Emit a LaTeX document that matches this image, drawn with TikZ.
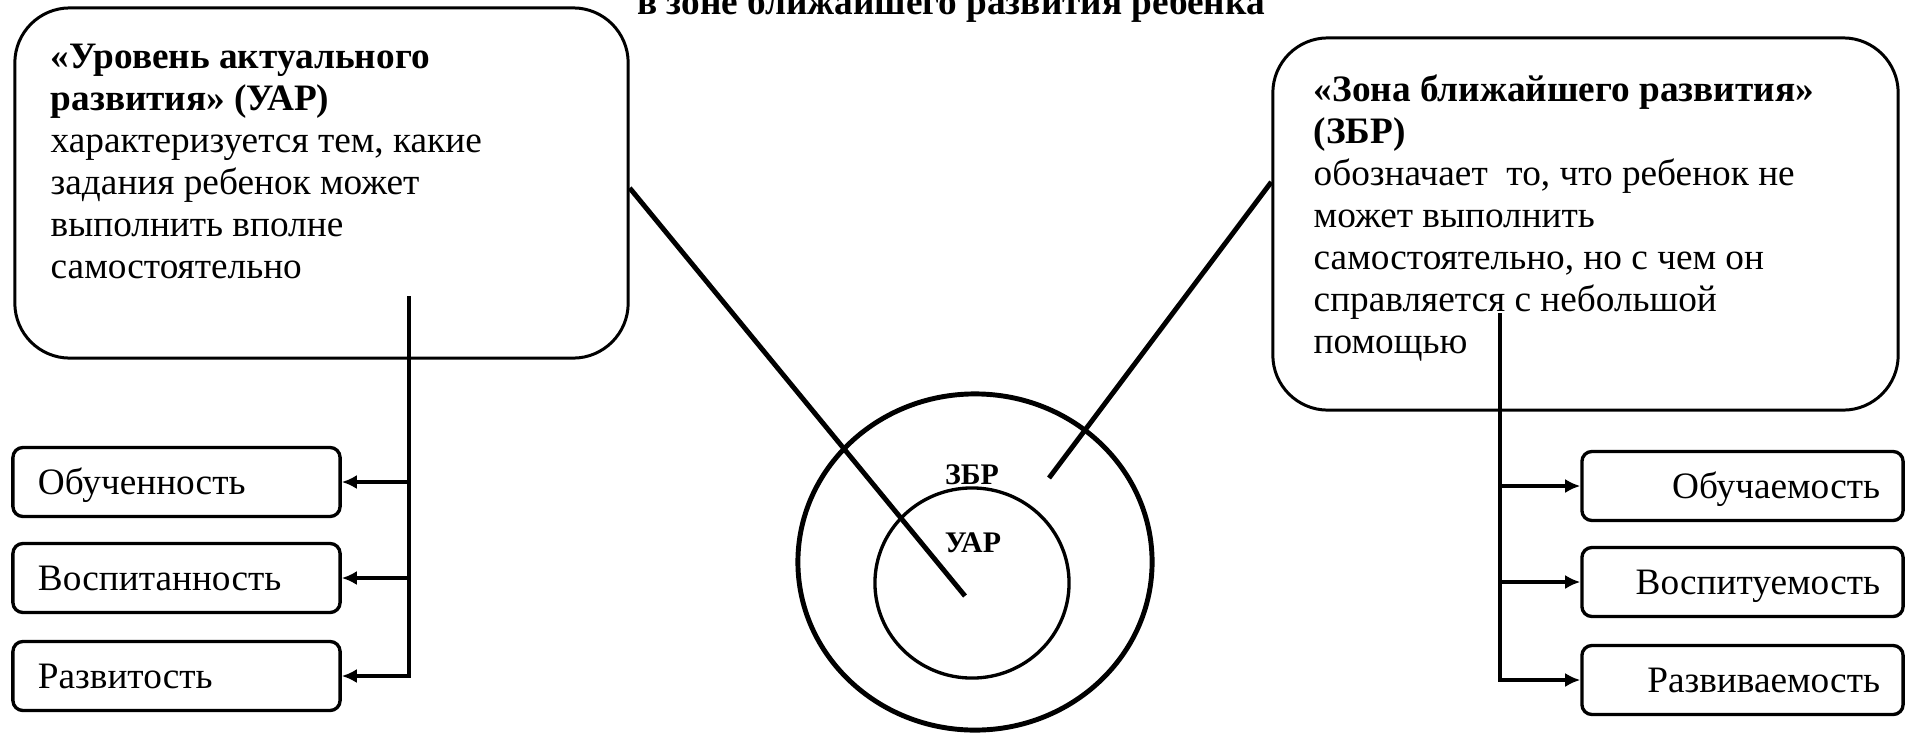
\documentclass[tikz,border=0pt]{standalone}
\usepackage{fontspec}
\setmainfont{Liberation Serif}
\usetikzlibrary{arrows.meta,shapes.geometric}

\begin{document}
\begin{tikzpicture}[x=0.01cm,y=-0.01cm,
  font=\fontsize{10.6}{11.95}\selectfont,
  bigbox/.style={draw,line width=0.85pt,rounded corners=0.55cm},
  tagbox/.style={draw,line width=0.95pt,rounded corners=0.1cm,minimum height=0.69cm,text height=0.25cm,text depth=0pt},
  lefttag/.style={tagbox,minimum width=3.27cm,text width=2.77cm,inner xsep=0.25cm,align=left},
  righttag/.style={tagbox,minimum width=3.21cm,text width=2.75cm,inner xsep=0.23cm,align=right},
  ring/.style={draw,ellipse,inner sep=0pt},
  ringlabel/.style={font=\fontsize{8.5}{10}\selectfont\bfseries},
  diag/.style={line width=1.4pt},
  link/.style={line width=0.95pt},
  tip/.style={link,-{Latex[length=1.5mm,width=1.4mm]}}]
 	\useasboundingbox (0,0) rectangle (1909,736);
 	\clip (0,0) rectangle (1909,736);

 	\node[font=\fontsize{10.6}{12}\selectfont\bfseries,anchor=base] (title) at (951,14) {в зоне ближайшего развития ребенка};

 	% big boxes
 	\node[bigbox,minimum width=6.13cm,minimum height=3.5cm] (uar) at (321.5,183) {};
 	\node[anchor=base west,inner sep=0pt] (uartext) at (50,68) {\parbox[t]{5.6cm}{\raggedright
 		{\bfseries «Уровень актуального\\ развития» (УАР)}\\ характеризуется тем, какие\\ задания ребенок может\\ выполнить вполне\\ самостоятельно}};
 	\node[bigbox,minimum width=6.25cm,minimum height=3.72cm] (zbr) at (1585.5,224) {};
 	\node[anchor=base west,inner sep=0pt] (zbrtext) at (1313,101) {\parbox[t]{5.6cm}{\raggedright
 		{\bfseries «Зона ближайшего развития»\\ (ЗБР)}\\ обозначает\ \ то, что ребенок не\\ может выполнить\\ самостоятельно, но с чем он\\ справляется с небольшой\\ помощью}};

 	% small boxes
 	\node[lefttag] (obuch) at (176.5,482) {Обученность};
 	\node[lefttag] (vosp) at (176.5,578) {Воспитанность};
 	\node[lefttag] (razv) at (176.5,676) {Развитость};
 	\node[righttag] (obuchaem) at (1742.5,486) {Обучаемость};
 	\node[righttag] (vospit) at (1742.5,582) {Воспитуемость};
 	\node[righttag] (razvivaem) at (1742.5,680) {Развиваемость};

 	% circles
 	\node[ring,line width=1.4pt,minimum width=3.54cm,minimum height=3.36cm] (zone) at (975,562) {};
 	\node[ring,line width=0.95pt,minimum width=1.94cm,minimum height=1.9cm] (core) at (972,583) {};
 	\node[ringlabel] (zbrlabel) at (972,475) {ЗБР};
 	\node[ringlabel] (uarlabel) at (973,543) {УАР};

 	\coordinate (uarend) at (965,596);
 	\coordinate (zbrend) at (1049,478);
 	\coordinate (uarfoot) at (409,296);
 	\coordinate (zbrfoot) at (1500,313);

 	\draw[diag] ([yshift=-0.05cm]uar.east) -- (uarend);
 	\draw[diag] ([yshift=0.42cm]zbr.west) -- (zbrend);

 	\draw[tip] (uarfoot) |- (razv.east);
 	\foreach \n in {obuch,vosp} \draw[tip] (uarfoot |- \n.east) -- (\n.east);
 	\draw[tip] (zbrfoot) |- (razvivaem.west);
 	\foreach \n in {obuchaem,vospit} \draw[tip] (zbrfoot |- \n.west) -- (\n.west);
\end{tikzpicture}
\end{document}
